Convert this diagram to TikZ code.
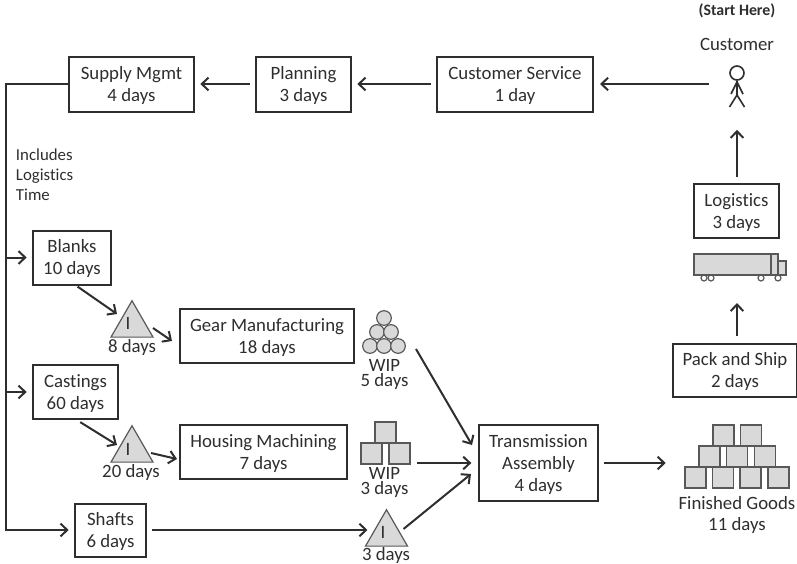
\documentclass[tikz,border=0pt]{standalone}
\usepackage{fontspec}
\setmainfont{Carlito}[Ligatures=NoCommon]
\usetikzlibrary{arrows.meta,shapes.geometric}

\definecolor{ink}{HTML}{2E2E2E}
\definecolor{stock}{HTML}{D9D9D9}

\tikzset{
procbox/.style 2 args={draw=ink, line width=1.5pt, minimum width=#1*0.75pt, minimum height=#2*0.75pt, inner sep=0pt, align=center, text depth=0.5pt},
flow/.style={draw=ink, line width=1.5pt, -{Straight Barb[length=5pt,width=9.5pt]}, shorten >=4pt, shorten <=4pt},
invtri/.style={regular polygon, regular polygon sides=3, draw=ink!80, fill=stock, line width=0.9pt, minimum size=36.4pt, inner sep=0pt},
crate/.style={draw=ink!80, fill=stock, line width=0.9pt, minimum size=15.8pt, inner sep=0pt},
coil/.style={circle, draw=ink!80, fill=stock, line width=0.9pt, minimum size=11pt, inner sep=0pt},
txt/.style={inner sep=0pt, text=ink},
stack/.style={inner sep=0pt, text=ink, align=center, font=\fontsize{14.1}{11.25}\selectfont},
}

\begin{document}
\begin{tikzpicture}[x=0.75pt, y=-0.75pt, font=\fontsize{14.1}{16.6}\selectfont, text=ink, line width=1.5pt]

\useasboundingbox (0,0) rectangle (797,564);

% top row
\node[procbox={125}{55}] (supply) at (131.5,84) {Supply Mgmt\\4 days};
\node[procbox={95}{55}] (planning) at (303.5,84) {Planning\\3 days};
\node[procbox={156}{55}] (service) at (515,84) {Customer Service\\1 day};

\node[txt, font=\fontsize{11.9}{13}\selectfont\bfseries] (start) at (737,11) {(Start Here)};
\node[txt] (customer) at (737,44) {Customer};

\node[circle, draw=ink, line width=1.2pt, minimum size=10.5pt, inner sep=0pt] (head) at (737,73) {};
\draw[ink, line width=1.2pt] (head.south) -- (737,95) -- (729.5,107);
\draw[ink, line width=1.2pt] (737,95) -- (744.5,107);
\draw[ink, line width=1.2pt] (731,94) -- (737,82) -- (743,94);

% right column
\node[procbox={85}{54}] (logistics) at (736.5,211) {Logistics\\3 days};
\node[procbox={124}{53}] (pack) at (735,370.5) {Pack and Ship\\2 days};

\filldraw[draw=ink!80, fill=stock, line width=0.9pt] (694,254) rectangle (771,275);
\filldraw[draw=ink!80, fill=stock, line width=0.9pt] (771,254) rectangle (778,275);
\filldraw[draw=ink!80, fill=stock, line width=0.9pt] (778,261) rectangle (786,275);
\draw[ink!80, line width=0.9pt] (704,278) circle (3);
\draw[ink!80, line width=0.9pt] (711,278) circle (3);
\draw[ink!80, line width=0.9pt] (761,278) circle (3);
\draw[ink!80, line width=0.9pt] (778,278) circle (3);
\coordinate (truck) at (737,303);

% suppliers
\node[procbox={78}{54}] (blanks) at (72,257.5) {Blanks\\10 days};
\node[procbox={85}{54}] (castings) at (75.5,392) {Castings\\60 days};
\node[procbox={71}{53}] (shafts) at (110.5,530) {Shafts\\6 days};

\node[txt, align=left, anchor=north west, font=\fontsize{12.6}{15}\selectfont] (note) at (15,148) {Includes\\Logistics\\Time};

% inventory triangles
\node[invtri] (invgear) at (132,325) {};
\node[txt] (igear) at (128,323) {I};
\node[txt] (dgear) at (132,347) {8 days};

\node[invtri] (invhouse) at (132,450) {};
\node[txt] (ihouse) at (128,449) {I};
\node[txt] (dhouse) at (131,472) {20 days};

\node[invtri] (invshaft) at (386.5,534) {};
\node[txt] (ishaft) at (383,532) {I};
\node[txt] (dshaft) at (386,555) {3 days};

% machining
\node[procbox={174}{54}] (gear) at (267,336) {Gear Manufacturing\\18 days};
\node[procbox={167}{54}] (housing) at (263.5,452) {Housing Machining\\7 days};
\node[procbox={119}{76}] (assembly) at (538.5,463) {Transmission\\Assembly\\4 days};

% WIP after gears
\node[coil] (c1) at (384,318) {};
\node[coil] (c2) at (377,332) {};
\node[coil] (c3) at (391,332) {};
\node[coil] (c4) at (370,346) {};
\node[coil] (c5) at (384,346) {};
\node[coil] (c6) at (398,346) {};
\node[stack] (wipa) at (384.5,374) {WIP\\5 days};

% WIP after housings
\node[crate] (s1) at (385.5,432.5) {};
\node[crate] (s2) at (371.5,453.5) {};
\node[crate] (s3) at (399.5,453.5) {};
\node[stack] (wipb) at (384.5,482) {WIP\\3 days};

% finished goods
\node[crate] (g1) at (723.5,435.5) {};
\node[crate] (g2) at (751,435.5) {};
\node[crate] (g3) at (709.5,456.5) {};
\node[crate] (g4) at (737,456.5) {};
\node[crate] (g5) at (765,456.5) {};
\node[crate] (g6) at (695.5,477.5) {};
\node[crate] (g7) at (723,477.5) {};
\node[crate] (g8) at (750.5,477.5) {};
\node[crate] (g9) at (778.5,477.5) {};
\node[txt] (goods) at (737,503) {Finished Goods};
\node[txt] (goodsdays) at (737,525) {11 days};

% information flow
\draw[flow, shorten >=4.5pt, shorten <=0pt] ([xshift=-15pt]head.west |- service.east) -- (service.east);
\draw[flow] (service.west) -- (planning.east);
\draw[flow] (planning.west) -- (supply.east);

\coordinate (trunk) at (6,84);
\draw[flow, shorten <=0pt] (supply.west) -- (trunk) -- (trunk |- shafts.west) -- (shafts.west);
\draw[flow, shorten <=0pt] (trunk |- blanks.west) -- (blanks.west);
\draw[flow, shorten <=0pt] (trunk |- castings.west) -- (castings.west);

% material flow
\draw[flow, shorten <=1.5pt, shorten >=0pt] ([xshift=3pt]blanks.south) -- ([shift={(-15,-11)}]invgear.center);
\draw[flow, shorten <=0pt, shorten >=0pt] ([shift={(21,3)}]invgear.center) -- ([shift={(-7,5)}]gear.west);
\draw[flow, shorten <=3pt, shorten >=0pt] ([xshift=1pt]castings.south) -- ([shift={(-15,-5)}]invhouse.center);
\draw[flow, shorten <=0pt, shorten >=0pt] ([shift={(19,3)}]invhouse.center) -- ([shift={(-2,7)}]housing.west);
\draw[flow, shorten >=0pt] (shafts.east) -- ([shift={(-19,-4)}]invshaft.center);
\draw[flow, shorten <=0pt, shorten >=0pt] ([shift={(32,3)}]c5.center) -- ([shift={(-6,-18)}]assembly.west);
\draw[flow, shorten <=0pt, shorten >=0pt] ([xshift=5pt]s3.east |- assembly.west) -- ([xshift=-5pt]assembly.west);
\draw[flow, shorten <=0pt, shorten >=0pt] ([shift={(17,-5)}]invshaft.center) -- ([shift={(-7,11)}]assembly.west);
\draw[flow, shorten >=0pt] (assembly.east) -- ([xshift=-14pt]g6.west |- assembly.east);

\draw[flow, shorten <=0pt, shorten >=0pt] ([shift={(0,-7)}]pack.north -| truck) -- (truck);
\draw[flow, shorten <=0pt, shorten >=0pt] ([shift={(0,-6)}]logistics.north -| head) -- ([shift={(0,49)}]head.south);

\end{tikzpicture}
\end{document}
